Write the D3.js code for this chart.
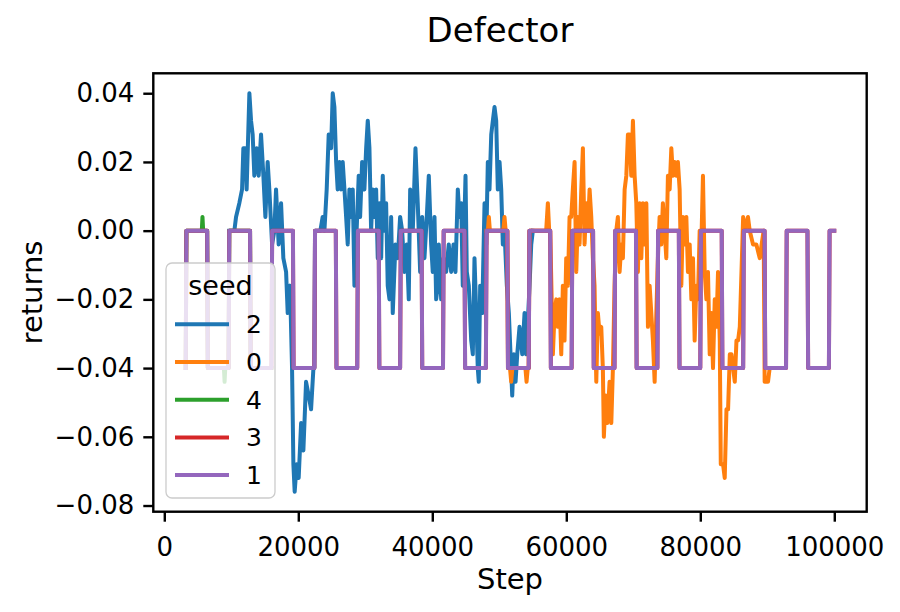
<!DOCTYPE html>
<html>
<head>
<meta charset="utf-8">
<script src="https://cdn.jsdelivr.net/npm/d3@7"></script>
<style>
  body { margin: 0; background: #fff; }
  text { font-family: "DejaVu Sans", sans-serif; fill: #000; }
</style>
</head>
<body>
<svg id="chart"></svg>
<script>
// legend / draw order (hue order)
const seeds = ["2", "0", "4", "3", "1"];
const seedColors = ["#1f77b4", "#ff7f0e", "#2ca02c", "#d62728", "#9467bd"];

const xTicks = [0, 20000, 40000, 60000, 80000, 100000];
const yTicks = [-0.08, -0.06, -0.04, -0.02, 0.00, 0.02, 0.04];

// seed 1 - square wave between 0 and -0.04
const seed1Steps = [3200, 3300, 6400, 6500, 9600, 9700, 12800, 12900, 16000, 16100,
  19200, 19300, 22400, 22500, 25600, 25700, 28800, 28900, 32000, 32100,
  35200, 35300, 38400, 38500, 41600, 41700, 44800, 44900, 48000, 48100,
  51200, 51300, 54400, 54500, 57600, 57700, 60800, 60900, 64000, 64100,
  67200, 67300, 70400, 70500, 73600, 73700, 76800, 76900, 80000, 80100,
  83200, 83300, 86400, 86500, 89600, 89700, 92800, 92900, 96000, 96100,
  99200, 99300, 100000];
const seed1Returns = [-0.04, 0, 0, -0.04, -0.04, 0, 0, -0.04, -0.04, 0,
  0, -0.04, -0.04, 0, 0, -0.04, -0.04, 0, 0, -0.04,
  -0.04, 0, 0, -0.04, -0.04, 0, 0, -0.04, -0.04, 0,
  0, -0.04, -0.04, 0, 0, -0.04, -0.04, 0, 0, -0.04,
  -0.04, 0, 0, -0.04, -0.04, 0, 0, -0.04, -0.04, 0,
  0, -0.04, -0.04, 0, 0, -0.04, -0.04, 0, 0, -0.04,
  -0.04, 0, 0];

// seed 3 - same curve as seed 1 (hidden underneath)
const seed3Steps = seed1Steps;
const seed3Returns = seed1Returns;

// seed 4
const seed4Steps = [3200, 3300, 5600, 5700, 5800, 6400, 6500, 8900, 9000, 9100, 9600, 9700, 12800, 12900, 16000];
const seed4Returns = [-0.04, 0, 0, 0.004, 0, 0, -0.04, -0.04, -0.044, -0.04, -0.04, 0, 0, -0.04, -0.04];

// seed 2
const seed2Steps = [9700, 10460, 10710, 11200, 11610, 11800, 12100, 12290, 12700, 12950,
  13190, 13440, 13790, 14090, 14440, 14790, 15090, 15430, 15680, 16090,
  16430, 16680, 17070, 17430, 17770, 18180, 18420, 18770, 19070, 19270,
  19460, 19760, 20060, 20420, 20760, 21160, 21550, 21910, 22260, 22400,
  22500, 23300, 23640, 23900, 24240, 24540, 24900, 25140, 25390, 25650,
  25880, 26140, 26390, 26630, 26890, 27140, 27380, 27630, 27890, 28130,
  28380, 28630, 29020, 29230, 29530, 29870, 30130, 30370, 30620, 30870,
  31110, 31370, 31620, 31860, 32110, 32370, 32610, 32860, 33110, 33350,
  33610, 33860, 34100, 34500, 34850, 35200, 35500, 35850, 36190, 36490,
  36700, 37090, 37490, 37830, 38190, 38490, 38830, 39180, 39480, 39830,
  40070, 40330, 40580, 40820, 40970, 41330, 41670, 42070, 42460, 42820,
  43170, 43460, 43810, 44060, 44320, 44550, 44960, 45150, 45450, 45810,
  46050, 46300, 46560, 46790, 46940, 47150, 47450, 47800, 48050, 48290,
  48540, 48800, 49040, 49290, 49540, 49780, 50040, 50290, 50530, 50780,
  51130, 51430, 51680, 51930, 52170, 52430, 52680, 53020, 53430, 53770,
  54020, 54520, 54770, 55010];
const seed2Returns = [0.000, 0.000, 0.004, 0.008, 0.012, 0.024, 0.024, 0.012, 0.040, 0.032,
  0.028, 0.016, 0.024, 0.016, 0.028, 0.016, 0.004, 0.020, 0.012, -0.004,
  0.000, 0.012, -0.004, 0.008, -0.008, -0.012, -0.024, -0.016, -0.040, -0.068,
  -0.076, -0.068, -0.072, -0.056, -0.064, -0.044, -0.048, -0.052, -0.040, -0.040,
  0.000, 0.000, 0.004, 0.000, 0.012, 0.028, 0.024, 0.040, 0.036, 0.020,
  0.012, 0.020, 0.012, 0.020, 0.012, 0.004, -0.004, 0.012, 0.004, 0.012,
  -0.016, -0.004, 0.016, 0.004, 0.020, 0.012, 0.024, 0.032, 0.024, 0.000,
  0.012, 0.004, 0.012, -0.008, 0.008, -0.008, 0.016, 0.000, 0.008, -0.016,
  -0.020, 0.004, -0.024, -0.004, -0.008, 0.004, 0.000, -0.012, -0.004, -0.020,
  0.012, 0.000, 0.024, 0.008, -0.012, 0.004, -0.008, 0.004, 0.016, -0.004,
  -0.012, 0.004, -0.020, -0.016, -0.004, -0.020, -0.008, -0.012, -0.004, -0.012,
  -0.004, -0.012, 0.012, 0.004, 0.008, -0.016, 0.016, -0.012, -0.016, -0.032,
  -0.036, -0.008, -0.024, -0.040, -0.044, -0.016, -0.024, 0.008, -0.004, 0.020,
  0.012, 0.028, 0.032, 0.036, 0.032, 0.012, 0.020, 0.012, -0.004, 0.000,
  -0.016, -0.024, -0.036, -0.048, -0.036, -0.044, -0.036, -0.028, -0.036, -0.024,
  -0.036, -0.016, -0.004, 0.000];

// seed 0
const seed0Steps = [48100, 48300, 48440, 48600, 50600, 50780, 50950, 51200, 51300, 51600,
  51780, 51950, 53900, 54070, 54250, 54400, 54500, 57000, 57250, 57450,
  57600, 58000, 58250, 58500, 58740, 59000, 59250, 59490, 59740, 59990,
  60240, 60490, 60740, 60980, 61240, 61490, 61730, 61980, 62240, 62480,
  62730, 62980, 63220, 63480, 63730, 63970, 64220, 64480, 64720, 64970,
  65220, 65460, 65610, 65870, 66120, 66460, 66720, 66960, 67210, 67460,
  67700, 67960, 68210, 68450, 68710, 68960, 69200, 69450, 69700, 69950,
  70200, 70450, 70690, 70950, 71200, 71440, 71690, 71950, 72190, 72440,
  72690, 72930, 73190, 73440, 73680, 73930, 74180, 74420, 74680, 74930,
  75170, 75430, 75680, 75920, 76170, 76420, 76660, 76920, 77170, 77410,
  77670, 77920, 78160, 78420, 78670, 78910, 79160, 79410, 79650, 79910,
  80160, 80400, 80660, 80910, 81150, 81410, 81660, 81900, 82160, 82410,
  82650, 82910, 83060, 83400, 83650, 83910, 84150, 84410, 84660, 84900,
  85150, 85400, 85640, 85900, 86150, 86400, 86650, 87120, 87380, 87870,
  88370, 88870, 89160, 89460, 89610, 90110, 90360, 90660];
const seed0Returns = [0.000, 0.000, 0.004, 0.000, 0.000, 0.004, 0.000, 0.000, -0.040, -0.040,
  -0.044, -0.040, -0.040, -0.044, -0.040, -0.040, 0.000, 0.000, 0.008, 0.000,
  0.000, -0.036, -0.024, -0.020, -0.028, -0.020, -0.036, -0.016, -0.032, -0.008,
  -0.016, 0.004, 0.004, 0.012, 0.020, -0.012, 0.004, -0.004, 0.012, 0.024,
  -0.004, 0.008, 0.000, 0.012, 0.004, -0.008, -0.016, -0.044, -0.024, -0.030,
  -0.028, -0.040, -0.060, -0.048, -0.056, -0.044, -0.056, -0.040, -0.016, 0.000,
  0.004, -0.012, -0.004, -0.008, 0.012, 0.016, 0.028, 0.028, 0.016, 0.032,
  0.016, 0.008, -0.012, 0.008, -0.008, 0.008, -0.004, 0.008, -0.028, -0.016,
  -0.024, -0.032, -0.044, -0.024, -0.008, 0.004, -0.004, 0.008, 0.000, -0.008,
  0.016, 0.012, 0.024, 0.016, 0.020, 0.016, 0.020, 0.012, -0.016, 0.004,
  -0.004, 0.004, -0.012, -0.004, -0.020, -0.008, -0.032, -0.016, -0.020, 0.000,
  -0.004, 0.016, -0.012, -0.020, -0.012, -0.036, -0.024, -0.040, -0.020, -0.028,
  -0.012, -0.032, -0.068, -0.068, -0.072, -0.052, -0.052, -0.036, -0.036, -0.040,
  -0.044, -0.032, -0.032, -0.028, -0.012, 0.004, 0.000, 0.004, 0.000, -0.004,
  -0.004, -0.008, -0.004, 0.000, -0.044, -0.044, -0.040, -0.040];

const seriesSteps = { "2": seed2Steps, "0": seed0Steps, "4": seed4Steps, "3": seed3Steps, "1": seed1Steps };
const seriesReturns = { "2": seed2Returns, "0": seed0Returns, "4": seed4Returns, "3": seed3Returns, "1": seed1Returns };

const W = 900, H = 612;
const margin = { top: 73.3, right: 33.3, bottom: 100.3, left: 153.3 };
const width = W - margin.left - margin.right,
      height = H - margin.top - margin.bottom;

const svg = d3.select("#chart").attr("width", W).attr("height", H);

const allSteps = d3.merge(seeds.map(s => seriesSteps[s]));
const allReturns = d3.merge(seeds.map(s => seriesReturns[s]));
const [xMin, xMax] = d3.extent(allSteps);
const [yMin, yMax] = d3.extent(allReturns);
const xPad = (xMax - xMin) * 0.05, yPad = (yMax - yMin) * 0.05;

const x = d3.scaleLinear().domain([xMin - xPad, xMax + xPad]).range([0, width]);
const y = d3.scaleLinear().domain([yMin - yPad, yMax + yPad]).range([height, 0]);

const g = svg.append("g").attr("transform", `translate(${margin.left},${margin.top})`);

// lines
const line = d3.line()
  .x(d => x(d[0]))
  .y(d => y(d[1]));

seeds.forEach((s, i) => {
  const pts = seriesSteps[s].map((st, j) => [st, seriesReturns[s][j]]);
  g.append("path")
    .datum(pts)
    .attr("fill", "none")
    .attr("stroke", seedColors[i])
    .attr("stroke-width", 4)
    .attr("stroke-linejoin", "round")
    .attr("stroke-linecap", "square")
    .attr("d", line);
});

// axes
const xAxis = g.append("g")
  .attr("transform", `translate(0,${height})`)
  .call(d3.axisBottom(x).tickValues(xTicks).tickFormat(d3.format("d"))
    .tickSize(10).tickPadding(16).tickSizeOuter(0));
const yAxis = g.append("g")
  .call(d3.axisLeft(y).tickValues(yTicks).tickFormat(d3.format(".2f"))
    .tickSize(10).tickPadding(9).tickSizeOuter(0));

[xAxis, yAxis].forEach(ax => {
  ax.select(".domain").remove();
  ax.selectAll(".tick line").attr("stroke", "#000").attr("stroke-width", 2.4);
  ax.selectAll(".tick text")
    .style("font-family", "DejaVu Sans")
    .style("font-size", "26px")
    .attr("fill", "#000");
});

// frame
g.append("rect")
  .attr("width", width).attr("height", height)
  .attr("fill", "none").attr("stroke", "#000").attr("stroke-width", 2.4);

// title and labels
svg.append("text")
  .attr("x", 500).attr("y", 41.7)
  .attr("text-anchor", "middle")
  .style("font-size", "34px")
  .text("Defector");

svg.append("text")
  .attr("x", margin.left + width / 2).attr("y", 589)
  .attr("text-anchor", "middle")
  .style("font-size", "29px")
  .text("Step");

svg.append("text")
  .attr("transform", `translate(42,${margin.top + height / 2}) rotate(-90)`)
  .attr("text-anchor", "middle")
  .style("font-size", "29px")
  .text("returns");

// legend
const legend = svg.append("g").attr("transform", "translate(166,263)");
legend.append("rect")
  .attr("width", 109).attr("height", 235).attr("rx", 6)
  .attr("fill", "#fff").attr("fill-opacity", 0.8)
  .attr("stroke", "#cccccc").attr("stroke-width", 1.3);
legend.append("text")
  .attr("x", 54.5).attr("y", 32)
  .attr("text-anchor", "middle")
  .style("font-size", "27px")
  .text("seed");
seeds.forEach((s, i) => {
  const ly = 61.3 + i * 37.7;
  legend.append("line")
    .attr("x1", 9).attr("x2", 63).attr("y1", ly).attr("y2", ly)
    .attr("stroke", seedColors[i]).attr("stroke-width", 4);
  legend.append("text")
    .attr("x", 80).attr("y", ly + 9)
    .style("font-size", "25px")
    .text(s);
});
</script>
</body>
</html>
